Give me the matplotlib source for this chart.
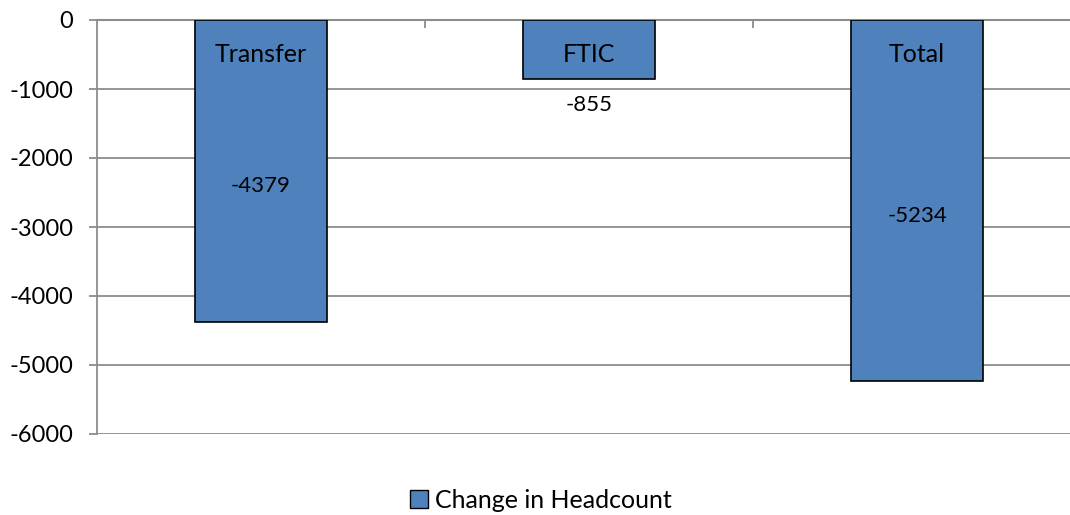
import matplotlib.pyplot as plt
import numpy as np
from matplotlib.patches import Patch

categories = ["Transfer", "FTIC", "Total"]
headcount_change = [-4379, -855, -5234]
y_ticks = [0, -1000, -2000, -3000, -4000, -5000, -6000]

plt.rcParams['font.family'] = ['Lato', 'DejaVu Sans']

fig = plt.figure(figsize=(10.7, 5.15), dpi=100)
ax = fig.add_axes([97 / 1070, 1 - 434 / 515, 984 / 1070, 414 / 515])

x = np.arange(len(categories))
bars = ax.bar(x, headcount_change, width=0.4, color="#4F81BD",
              edgecolor="black", linewidth=1.2, zorder=3)

ax.set_xlim(-0.5, len(categories) - 0.5)
ax.set_ylim(-6000, 0)
ax.set_yticks(y_ticks)
ax.set_yticklabels([str(v) for v in y_ticks], fontsize=17)
ax.yaxis.grid(True, color="#8c8c8c", linewidth=1.3, zorder=0)
ax.tick_params(axis="y", length=6, width=1.3, color="#8c8c8c", pad=11)

# category separators hanging from the zero line
ax.set_xticks([0.5, 1.5])
ax.set_xticklabels([])
ax.xaxis.set_ticks_position("top")
ax.tick_params(axis="x", direction="in", length=6, width=1.3, color="#8c8c8c")

for s in ["right", "bottom"]:
    ax.spines[s].set_visible(False)
ax.spines["left"].set_color("#8c8c8c")
ax.spines["left"].set_linewidth(1.3)
ax.spines["top"].set_color("#8c8c8c")
ax.spines["top"].set_linewidth(1.5)

# category names sit just under the zero line
for xi, name in zip(x, categories):
    ax.annotate(name, (xi, 0), xytext=(0, -25), textcoords="offset points",
                ha="center", va="center", fontsize=18, zorder=4)

# value labels
for xi, v in zip(x, headcount_change):
    if v < -2000:
        ax.annotate(str(v), (xi, v / 2), xytext=(0, -11), textcoords="offset points",
                    ha="center", va="center", fontsize=16, zorder=4)
    else:
        ax.annotate(str(v), (xi, v), xytext=(0, -19), textcoords="offset points",
                    ha="center", va="center", fontsize=16, zorder=4)

handle = Patch(facecolor="#4F81BD", edgecolor="black", label="Change in Headcount")
fig.legend(handles=[handle], loc="center", bbox_to_anchor=(541 / 1070, 1 - 500 / 515),
           frameon=False, fontsize=18, handlelength=0.7, handleheight=0.7,
           handletextpad=0.3)

fig.savefig("out.png", dpi=100)
